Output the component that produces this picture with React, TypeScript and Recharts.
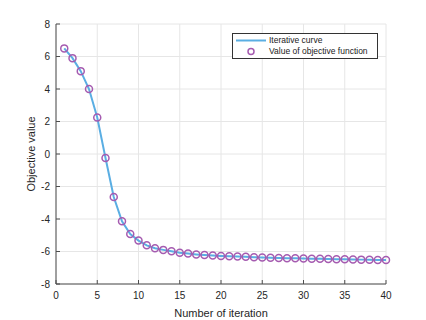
import React from 'react';
import {
    LineChart, Line, XAxis, YAxis, CartesianGrid
} from 'recharts';

// iteration numbers and objective value
const iterations = [
    1, 2, 3, 4, 5, 6, 7, 8, 9, 10,
    11, 12, 13, 14, 15, 16, 17, 18, 19, 20,
    21, 22, 23, 24, 25, 26, 27, 28, 29, 30,
    31, 32, 33, 34, 35, 36, 37, 38, 39, 40,
];
const objective = [
    6.5, 5.9, 5.1, 4.0, 2.25, -0.25, -2.65, -4.14, -4.92, -5.33,
    -5.62, -5.8, -5.9, -5.99, -6.07, -6.13, -6.18, -6.22, -6.25, -6.27,
    -6.29, -6.31, -6.33, -6.35, -6.37, -6.38, -6.4, -6.41, -6.42, -6.43,
    -6.44, -6.45, -6.46, -6.47, -6.48, -6.49, -6.5, -6.51, -6.52, -6.53,
];
const xTicks = [0, 5, 10, 15, 20, 25, 30, 35, 40];
const yTicks = [-8, -6, -4, -2, 0, 2, 4, 6, 8];

const data = iterations.map((it, i) => ({ it, value: objective[i] }));

const LINE_COLOR = '#5aaee3';
const MARKER_COLOR = '#a55bb0';
const AXIS_COLOR = '#4d4d4d';
const FONT = '"Liberation Sans", Arial, sans-serif';

function LegendBox() {
    return (
        <div style={{
            position: 'absolute', left: 232, top: 33,
            border: '1px solid #333', background: '#fff', width: 146, height: 26,
            fontFamily: FONT, fontSize: 8.5, color: '#222', boxSizing: 'border-box',
            padding: '1px 0 0 2px', lineHeight: '11px'
        }}>
            <div style={{ display: 'flex', alignItems: 'center' }}>
                <svg width={32} height={11}><line x1={1} y1={5.5} x2={31} y2={5.5} stroke={LINE_COLOR} strokeWidth={2} /></svg>
                <span style={{ marginLeft: 2 }}>Iterative curve</span>
            </div>
            <div style={{ display: 'flex', alignItems: 'center' }}>
                <svg width={32} height={11}><circle cx={16} cy={5.5} r={3} fill="none" stroke={MARKER_COLOR} strokeWidth={1.5} /></svg>
                <span style={{ marginLeft: 2 }}>Value of objective function</span>
            </div>
        </div>
    );
}

export default function App() {
    return (
        <div style={{ position: 'absolute', left: 0, top: 0, width: 426, height: 320, background: '#fff' }}>
            <LineChart width={426} height={320} data={data}
                margin={{ top: 24, right: 40, bottom: 0, left: 0 }}
                style={{ fontFamily: FONT }}>
                <CartesianGrid stroke="#e6e6e6" horizontal vertical />
                <XAxis dataKey="it" type="number" domain={[0, 40]} ticks={xTicks}
                    height={36} stroke={AXIS_COLOR} tickSize={-4} tickMargin={12}
                    tick={{ fontSize: 10, fill: '#262626' }}
                    label={{ value: 'Number of iteration', position: 'insideBottom', offset: 3, fontSize: 11, fill: '#262626' }} />
                <XAxis xAxisId="top" dataKey="it" type="number" domain={[0, 40]} ticks={xTicks}
                    orientation="top" height={0} stroke={AXIS_COLOR} tickSize={-4}
                    tickFormatter={() => ''} />
                <YAxis type="number" domain={[-8, 8]} ticks={yTicks} width={56}
                    stroke={AXIS_COLOR} tickSize={-4} tickMargin={10}
                    tick={{ fontSize: 10, fill: '#262626' }}
                    label={{ value: 'Objective value', angle: -90, position: 'insideLeft', offset: 31, fontSize: 11, fill: '#262626', style: { textAnchor: 'middle' } }} />
                <YAxis yAxisId="right" type="number" domain={[-8, 8]} ticks={yTicks}
                    orientation="right" width={0} stroke={AXIS_COLOR} tickSize={-4}
                    tickFormatter={() => ''} />
                <Line isAnimationActive={false} type="linear" dataKey="value" stroke={LINE_COLOR}
                    strokeWidth={2} dot={false} name="Iterative curve" />
                <Line isAnimationActive={false} type="linear" dataKey="value" stroke="none"
                    dot={{ r: 3.5, stroke: MARKER_COLOR, strokeWidth: 1.5, fill: 'none' }}
                    name="Value of objective function" />
            </LineChart>
            <LegendBox />
        </div>
    );
}
